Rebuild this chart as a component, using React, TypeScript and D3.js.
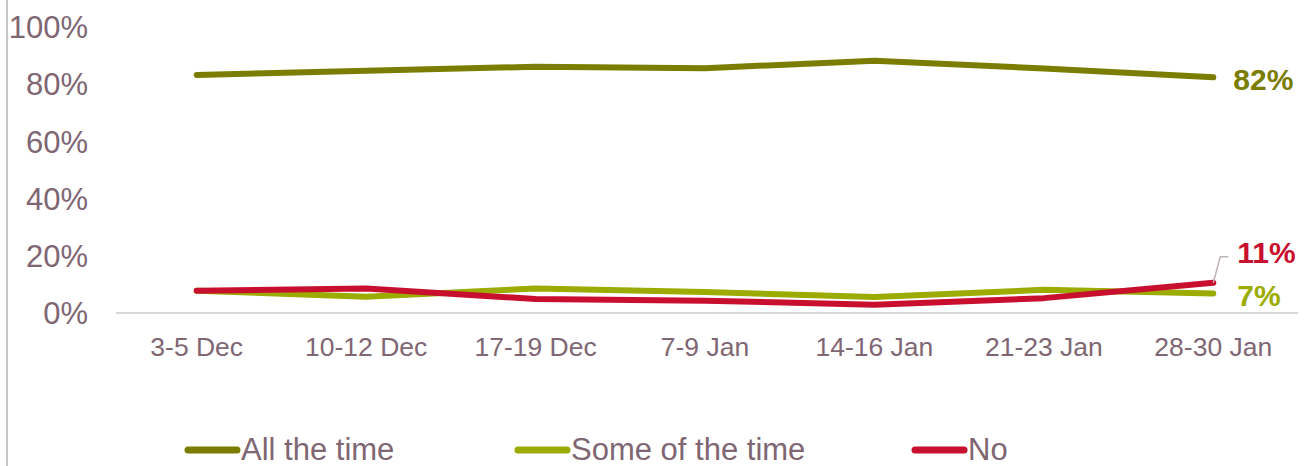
import React from "react";
import * as d3 from "d3";

const categories = ["3-5 Dec", "10-12 Dec", "17-19 Dec", "7-9 Jan", "14-16 Jan", "21-23 Jan", "28-30 Jan"];
const allTheTime = [83.2, 84.7, 86.1, 85.6, 88.2, 85.5, 82.4];
const someOfTheTime = [7.8, 5.7, 8.6, 7.3, 5.6, 8.1, 6.8];
const no = [7.8, 8.6, 4.9, 4.3, 2.9, 5.2, 10.6];
const yTicks = [0, 20, 40, 60, 80, 100];
const seriesNames = ["All the time", "Some of the time", "No"];
const seriesColors = ["#7A7D00", "#9BAB00", "#C8102E"];

const W = 1313;
const H = 466;
const textColor = "#7F6673";
const font = "'Liberation Sans', Arial, sans-serif";

export default function App() {
  const x = d3.scalePoint<string>().domain(categories).range([112, 1298]).padding(0.5);
  const y = d3.scaleLinear().domain([0, 100]).range([313, 27]);
  const line = d3
    .line<number>()
    .x((_, i) => x(categories[i]) as number)
    .y((d) => y(d));
  const series = [allTheTime, someOfTheTime, no];
  const lastX = x(categories[categories.length - 1]) as number;
  const legendX = [185, 515, 912];
  const fmt = (v: number) => `${Math.round(v)}%`;

  return (
    <svg width={W} height={H} style={{ position: "absolute", left: 0, top: 0 }} fontFamily={font}>
      <rect x={0} y={0} width={W} height={H} fill="#fff" />
      <line x1={7} x2={7} y1={0} y2={H} stroke="#C8C8C8" strokeWidth={2} />
      {yTicks.map((t) => (
        <text key={t} x={88} y={y(t)} dy="0.36em" textAnchor="end" fontSize={31} fill={textColor}>
          {t}%
        </text>
      ))}
      <line x1={116} x2={1298} y1={y(0)} y2={y(0)} stroke="#DAD5D7" strokeWidth={2} />
      {categories.map((c) => (
        <text key={c} x={x(c) as number} y={356} textAnchor="middle" fontSize={26.5} fill={textColor}>
          {c}
        </text>
      ))}
      {[1, 2, 0].map((si) => (
        <path
          key={si}
          d={line(series[si]) as string}
          fill="none"
          stroke={seriesColors[si]}
          strokeWidth={6}
          strokeLinecap="round"
          strokeLinejoin="round"
        />
      ))}
      <polyline
        points={`${lastX},${y(no[6])} ${lastX + 7},${y(no[6]) - 26} ${lastX + 15},${y(no[6]) - 26}`}
        fill="none"
        stroke="#BDB3B8"
        strokeWidth={1.5}
      />
      <text x={lastX + 20} y={y(allTheTime[6]) + 2} dy="0.36em" fontSize={30} fontWeight="bold" fill={seriesColors[0]}>
        {fmt(allTheTime[6])}
      </text>
      <text x={lastX + 24} y={y(no[6]) - 30} dy="0.36em" fontSize={30} fontWeight="bold" fill={seriesColors[2]}>
        {fmt(no[6])}
      </text>
      <text x={lastX + 24} y={y(someOfTheTime[6]) + 2} dy="0.36em" fontSize={30} fontWeight="bold" fill={seriesColors[1]}>
        {fmt(someOfTheTime[6])}
      </text>
      {seriesNames.map((n, i) => (
        <g key={n}>
          <line x1={legendX[i] + 3} x2={legendX[i] + 52} y1={450} y2={450} stroke={seriesColors[i]} strokeWidth={7} strokeLinecap="round" />
          <text x={legendX[i] + 56} y={449} dy="0.36em" fontSize={31} fill={textColor}>
            {n}
          </text>
        </g>
      ))}
    </svg>
  );
}
